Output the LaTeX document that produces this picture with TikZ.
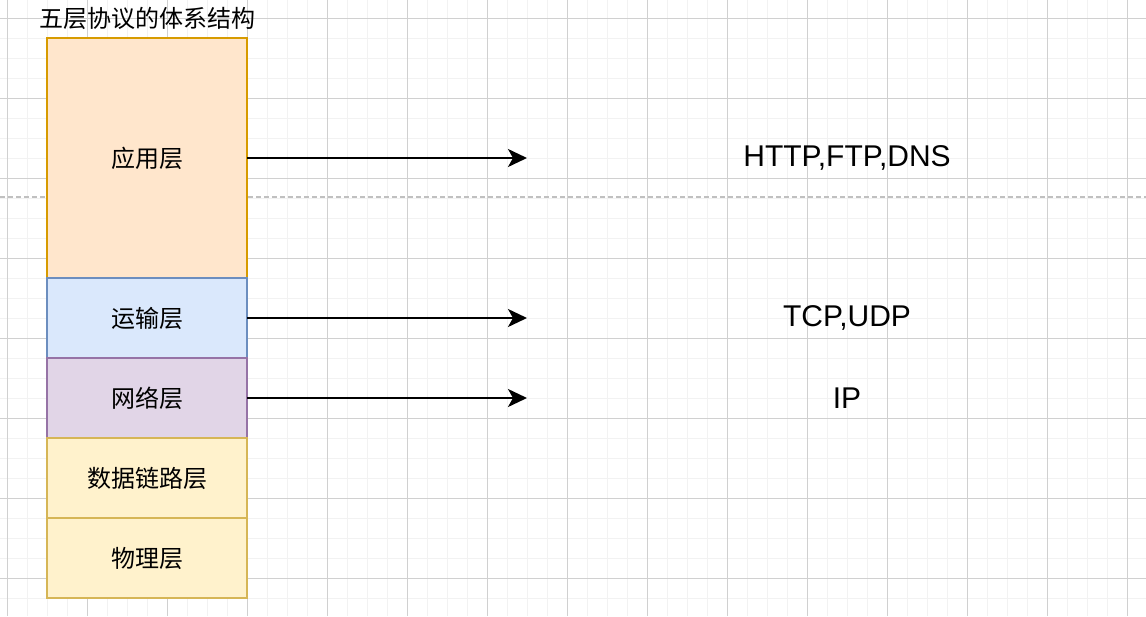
\documentclass[tikz,border=0pt]{standalone}
\usepackage{fontspec}
\setmainfont{Liberation Sans}
\newfontfamily\cjk{Noto Sans CJK SC}
\usepackage{tikz}
\usetikzlibrary{positioning, arrows.meta}
\definecolor{gridminor}{HTML}{F2F2F2}
\definecolor{gridmajor}{HTML}{D0D0D0}
\definecolor{pagebreak}{HTML}{C0C0C0}
\definecolor{appfill}{HTML}{FFE6CC}
\definecolor{appline}{HTML}{D79B00}
\definecolor{tranfill}{HTML}{DAE8FC}
\definecolor{tranline}{HTML}{6C8EBF}
\definecolor{netfill}{HTML}{E1D5E7}
\definecolor{netline}{HTML}{9673A6}
\definecolor{linkfill}{HTML}{FFF2CC}
\definecolor{linkline}{HTML}{D6B656}

\begin{document}
\begin{tikzpicture}[x=1pt, y=-1pt, node distance=0pt,
	layerbox/.style={draw, line width=2pt, outer sep=0pt, minimum width=200pt, minimum height=80pt, inner sep=0pt, font=\cjk\fontsize{24}{28}\selectfont},
	protolabel/.style={font=\fontsize{30}{34}\selectfont},
	layerarrow/.style={line width=2pt, -{Stealth[length=19pt, width=18pt, inset=5pt]}}]
			\useasboundingbox (0,0) rectangle (1146,616);
			%% canvas grid
			\foreach \x in {7,27,...,1147} \draw [gridminor, line width=1pt] (\x,0) -- (\x,616);
			\foreach \y in {18,38,...,618} \draw [gridminor, line width=1pt] (0,\y) -- (1146,\y);
			\foreach \x in {7,87,...,1147} \draw [gridmajor, line width=1pt] (\x,0) -- (\x,616);
			\foreach \y in {18,98,...,618} \draw [gridmajor, line width=1pt] (0,\y) -- (1146,\y);
			\draw [pagebreak, line width=1.5pt, dash pattern=on 5pt off 3pt] (0,197) -- (1146,197);
			
			\node [font=\cjk\fontsize{24}{28}\selectfont] (title) at (147,18) {五层协议的体系结构};
			\node [layerbox, fill=appfill, draw=appline, minimum height=240pt] (app) at (147,158) {应用层};
			\node [layerbox, fill=tranfill, draw=tranline, below=of app] (tran) {运输层};
			\node [layerbox, fill=netfill, draw=netline, below=of tran] (net) {网络层};
			\node [layerbox, fill=linkfill, draw=linkline, below=of net] (link) {数据链路层};
			\node [layerbox, fill=linkfill, draw=linkline, below=of link] (phys) {物理层};
			
			\node [protolabel] (http) at (847,158) {HTTP,FTP,DNS};
			\node [protolabel] (tcp) at (847,318) {TCP,UDP};
			\node [protolabel] (ip) at (847,398) {IP};
			\coordinate (apptip) at (527,158);
			\coordinate (trantip) at (527,318);
			\coordinate (nettip) at (527,398);
			\draw [layerarrow] (app.east) -- (apptip);
			\draw [layerarrow] (tran.east) -- (trantip);
			\draw [layerarrow] (net.east) -- (nettip);
			\end{tikzpicture}
\end{document}
